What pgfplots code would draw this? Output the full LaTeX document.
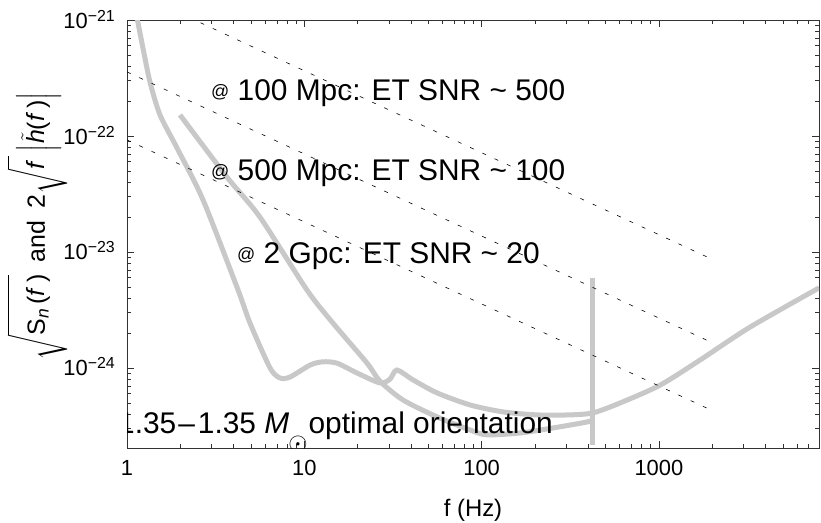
\documentclass[border=0pt]{standalone}
\usepackage{amsmath}
\usepackage{fontspec}
\setmainfont{Liberation Sans}
\usepackage{pgfplots}
\pgfplotsset{compat=1.18}

\definecolor{curvegray}{RGB}{200,200,200}
\definecolor{framegray}{RGB}{50,50,50}

% annotation text and the small @ sign
\newcommand{\lab}{\fontsize{30}{36}\selectfont}
\newcommand{\at}{\raisebox{3bp}{\fontsize{18}{18}\selectfont @}}
% tick labels in the text font
\newcommand{\tl}[1]{\textnormal{#1}}
\newcommand{\tenp}[1]{\textnormal{10\raisebox{7bp}{\fontsize{16}{16}\selectfont −#1}}}

\begin{document}
\begin{tikzpicture}[x=1bp,y=1bp]
\path[use as bounding box] (0,0) rectangle (821,523);
\begin{axis}[
  at={(127bp,75bp)}, anchor=south west,
  scale only axis, width=692bp, height=428bp,
  xmode=log, ymode=log,
  xmin=1, xmax=8000, ymin=2.04e-25, ymax=1e-21,
  /pgf/number format/assume math mode=true,
  axis line style={framegray, line width=0.8bp},
  tick style={framegray, line width=0.6bp},
  tick align=inside,
  major tick length=7bp, minor tick length=4bp,
  xtick={1,10,100,1000},
  xticklabels={\tl{1},\tl{10},\tl{100},\tl{1000}},
  minor xtick={2,3,4,5,6,7,8,9,20,30,40,50,60,70,80,90,200,300,400,500,600,700,800,900,2000,3000,4000,5000,6000,7000},
  ytick={1e-24,1e-23,1e-22,1e-21},
  yticklabels={\tenp{24},\tenp{23},\tenp{22},\tenp{21}},
  minor ytick={3e-25,4e-25,5e-25,6e-25,7e-25,8e-25,9e-25,
               2e-24,3e-24,4e-24,5e-24,6e-24,7e-24,8e-24,9e-24,
               2e-23,3e-23,4e-23,5e-23,6e-23,7e-23,8e-23,9e-23,
               2e-22,3e-22,4e-22,5e-22,6e-22,7e-22,8e-22,9e-22},
  xticklabel style={font=\fontsize{22}{26}\selectfont, anchor=base, inner sep=0pt, yshift=-27bp},
  yticklabel style={font=\fontsize{22}{26}\selectfont, anchor=base east, inner sep=0pt, xshift=-12bp, yshift=-8bp},
  every axis x label/.style={at={(axis description cs:0.5,-0.161)}, anchor=base, font=\fontsize{24}{28}\selectfont},
  every axis y label/.style={at={(axis description cs:-0.1185,0.5)}, anchor=base, rotate=90, xshift=8bp, font=\fontsize{25}{30}\selectfont},
  xlabel={f (Hz)},
  ylabel={$\sqrt{\vphantom{\Big(}\mbox{S\textsubscript{\textit{n}}\,(\textit{f}\,)}}$\enspace and\enspace 2$\sqrt{\vphantom{\Big(}\mbox{\textit{f}\,}}\,\Big|\tilde{\mbox{\textit{h}}}\mbox{(\textit{f}\,)}\Big|$},
]

% detector noise curve
\addplot[curvegray, line width=5bp, smooth, tension=0.45] coordinates {
 (1.14,1.04e-21) (1.23,5.74e-22) (1.348,2.92e-22) (1.535,1.52e-22)
 (1.914,7.9e-23) (2.685,2.81e-23) (4.23,4.7e-24) (4.94,2.44e-24)
 (6.41,1.0e-24) (7.29,8.2e-25) (8.30,8.35e-25) (10.8,1.06e-24)
 (12.7,1.13e-24) (15.3,1.10e-24) (19.8,9.06e-25) (26.7,7.43e-25)
 (30.4,8.0e-25) (33.3,9.6e-25) (41.0,7.9e-25) (56.0,6.1e-25)
 (86,4.8e-25) (132,4.18e-25) (205,3.94e-25) (315,3.94e-25)
 (425,4.1e-25) (604,4.99e-25) (1014,7.1e-25) (1706,1.17e-24)
 (3266,2.25e-24) (8000,4.9e-24)
};

% inspiral signal, 1.35-1.35 solar masses
\addplot[curvegray, line width=5bp, smooth, tension=0.45] coordinates {
 (1.99,1.52e-22) (3.66,4.43e-23) (5.62,2.0e-23) (10.35,4.7e-24)
 (14.5,2.44e-24) (22.6,1.10e-24) (26.7,7.7e-25) (36.0,5.3e-25)
 (56,3.79e-25) (86,2.92e-25) (107,2.65e-25) (165,2.75e-25)
 (253,3.04e-25) (393,3.42e-25) (420,3.56e-25)
};
% cut-off at the end of the inspiral
\addplot[curvegray, line width=5bp] coordinates {(420,6.0e-24) (420,2.15e-25)};

% reference slopes for the three distances
\addplot[black, line width=0.6bp, dash pattern=on 4bp off 9.5bp] coordinates {(1,1.86e-21) (1870,9.06e-24)};
\addplot[black, line width=0.6bp, dash pattern=on 4bp off 9.5bp] coordinates {(1,3.57e-22) (1870,1.73e-24)};
\addplot[black, line width=0.6bp, dash pattern=on 4bp off 9.5bp] coordinates {(1,9.25e-23) (1870,4.5e-25)};

\node[anchor=base west, inner sep=0pt, font=\lab] at (axis cs:2.977,2.014e-22) {\at\ 100 Mpc: ET SNR \textasciitilde\ 500};
\node[anchor=base west, inner sep=0pt, font=\lab] at (axis cs:2.977,4.12e-23) {\at\ 500 Mpc: ET SNR \textasciitilde\ 100};
\node[anchor=base west, inner sep=0pt, font=\lab] at (axis cs:4.173,8.03e-24) {\at\ 2 Gpc: ET SNR \textasciitilde\ 20};
% caption text, cut at the frame on the left
\begin{scope}
\clip (rel axis cs:0,0) rectangle (rel axis cs:1,1);
\node[anchor=base west, inner sep=0pt, font=\lab] at (axis cs:0.889,2.70e-25)
  {1.35\kern2bp–\kern3bp1.35 \textit{M}\kern-1bp\raisebox{-17bp}{\fontsize{23}{23}\selectfont$\odot$}\kern1bp optimal orientation};
\end{scope}
\end{axis}
\end{tikzpicture}
\end{document}
